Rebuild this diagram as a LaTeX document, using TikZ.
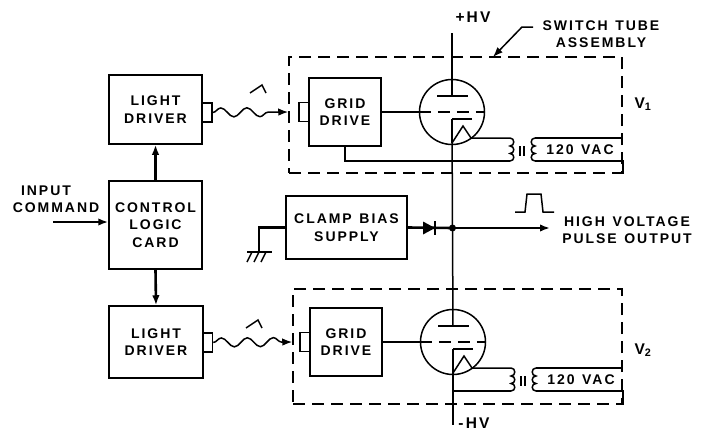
\documentclass[tikz,border=0pt]{standalone}
\usepackage{fontspec}
\setmainfont{Liberation Sans}[LetterSpace=14,WordSpace=1.3]
\usetikzlibrary{arrows.meta,decorations.pathmorphing}
\tikzset{
  wire/.style={line width=1.5pt},
  heavy/.style={line width=2.6pt},
  lbl/.style={font=\fontsize{14}{17.5}\selectfont\bfseries,align=center,inner sep=0pt},
  biglbl/.style={font=\fontsize{15.5}{18}\selectfont\bfseries,inner sep=0pt},
  block/.style={draw,wire,rectangle,inner sep=0pt,font=\fontsize{14}{17.5}\selectfont\bfseries,align=center},
  tabbox/.style={draw,wire,rectangle,inner sep=0pt,minimum width=10pt,minimum height=19pt},
  assembly/.style={draw,wire,rectangle,inner sep=0pt,dash pattern=on 12pt off 7pt},
  lightwave/.style={wire,->,decorate,decoration={snake,segment length=26pt,amplitude=4.5pt,post length=10pt,post=lineto}}
}
\begin{document}
\begin{tikzpicture}[x=1pt,y=-1pt,>={Latex[length=10pt,width=7.5pt]}]
\useasboundingbox (0,0) rectangle (710,431);
\node[block,minimum width=93pt,minimum height=69pt] (driver1) at (155.5,109.5) {LIGHT\\DRIVER};
\node[block,minimum width=93pt,minimum height=88pt] (logic) at (155.5,225) {CONTROL\\LOGIC\\CARD};
\node[block,minimum width=94pt,minimum height=72pt] (driver2) at (156,342) {LIGHT\\DRIVER};
\node[tabbox] (ltab1) at (207,112.5) {};
\node[tabbox] (ltab2) at (207.5,342.5) {};
\node[block,minimum width=121pt,minimum height=63pt] (clamp) at (346.5,227.5) {CLAMP BIAS\\SUPPLY};
\node[assembly,minimum width=333pt,minimum height=116pt] (box1) at (455.5,115) {};
\node[assembly,minimum width=329pt,minimum height=115pt] (box2) at (457.5,346.5) {};
\foreach \n/\dx/\dy in {1/0/0,2/1/230} {
  \begin{scope}[shift={(\dx,\dy)}]
    \node[block,minimum width=72pt,minimum height=68pt] (grid\n) at (345,112) {GRID\\DRIVE};
    \node[tabbox] (gtab\n) at (304,112) {};
    \node[draw,wire,circle,inner sep=0pt,minimum size=65pt] (tube\n) at (452,112) {};
    \coordinate (plate\n) at (452,96);
    \coordinate (cath\n) at (452,119);
    \coordinate (fil\n) at (452,143);
    \coordinate (coiltop\n) at (510,138);
    \coordinate (coilbot\n) at (510,161);
    \coordinate (sectop\n) at (535,138);
    \coordinate (secbot\n) at (535,161);
    \draw[wire] (437,96) -- (468,96);
    \draw[wire] (cath\n) -- (472,119);
    \draw[wire] (fil\n) -- (463,126) -- (471,138) -- (coiltop\n);
    \draw[wire] (coiltop\n) .. controls (515,138) and (515,146) .. (510,146)
      .. controls (515,146) and (515,153.5) .. (510,153.5)
      .. controls (515,153.5) and (515,161) .. (coilbot\n);
    \draw[wire] (sectop\n) .. controls (530,138) and (530,146) .. (535,146)
      .. controls (530,146) and (530,153.5) .. (535,153.5)
      .. controls (530,153.5) and (530,161) .. (secbot\n);
    \draw[wire] (520,146) -- (520,156);
    \draw[wire] (524,146) -- (524,156);
    \draw[wire] (sectop\n) -- (sectop\n -| box\n.east);
    \draw[wire] (secbot\n) -- (secbot\n -| box\n.east) -- (box\n.south east);
    \node[lbl] (vac\n) at (580,150) {120 VAC};
    \draw[wire] (grid\n.east) -- (tube\n.west);
    \draw[wire,dash pattern=on 12pt off 7pt] (tube\n.west) -- (tube\n.east);
  \end{scope}
}
\coordinate (hvtop) at (452,33);
\coordinate (hvbot) at (453,425);
\coordinate (junction) at (452.5,228);
\coordinate (pulseend) at (550,228);
\coordinate (inputstart) at (53,222);
\coordinate (groundtop) at (259,252);
\coordinate (leaderbend) at (522,27);
\coordinate (leaderend) at (493,57);
\draw[wire] (hvtop) -- (plate1);
\draw[wire] (cath1) -- (fil1);
\draw[wire] (cath1) -- (junction) -- (plate2);
\draw[wire] (cath2) -- (hvbot);
\draw[wire] (coilbot1) -| (grid1.south);
\draw[wire] (coilbot2) -- (coilbot2 -| cath2);
\draw[heavy,->] (logic.north) -- (driver1.south);
\draw[heavy,->] (logic.south) -- (driver2.north);
\draw[heavy,->] (inputstart) -- (inputstart -| logic.west);
\draw[lightwave] (ltab1.east) -- (box1.west |- gtab1);
\draw[lightwave] (ltab2.east) -- (box2.west |- gtab2);
\foreach \n/\lx/\ly in {1/250/93,2/246/328}
    \draw[wire] (\lx,\ly) -- (\lx+12,\ly-8) -- (\lx+16,\ly);
\draw[heavy] (clamp.east) -- (junction);
\draw[heavy,->] (junction) -- (pulseend);
\fill (423,221.5) -- (423,234.5) -- (435,228) -- cycle;
\draw[heavy] (435,221) -- (435,235);
\fill (junction) circle (3.5pt);
\draw[heavy] (clamp.west) -- (clamp.west -| groundtop) -- (groundtop);
\draw[wire] (247,252) -- (272,252);
\foreach \o in {0,7,14}
    \draw[wire] (252+\o,252) -- (247+\o,262);
\draw[wire] (515,212) -- (525,212) -- (527,194) -- (541,194) -- (543,212) -- (554,212);
\draw[wire,->] (533,27) -- (leaderbend) -- (leaderend);
\node[lbl] (input) at (46,191) {INPUT};
\node[lbl] (command) at (56,208) {COMMAND};
\node[lbl] (pulselabel) at (627,230) {HIGH VOLTAGE\\PULSE OUTPUT};
\node[lbl] (switchlabel) at (601,34) {SWITCH TUBE\\ASSEMBLY};
\node[biglbl] (plushv) at (473,17) {+HV};
\node[biglbl] (minushv) at (474,423) {-HV};
\node[biglbl] (v1) at (643,104) {V\textsubscript{1}};
\node[biglbl] (v2) at (643,350) {V\textsubscript{2}};
\end{tikzpicture}
\end{document}
